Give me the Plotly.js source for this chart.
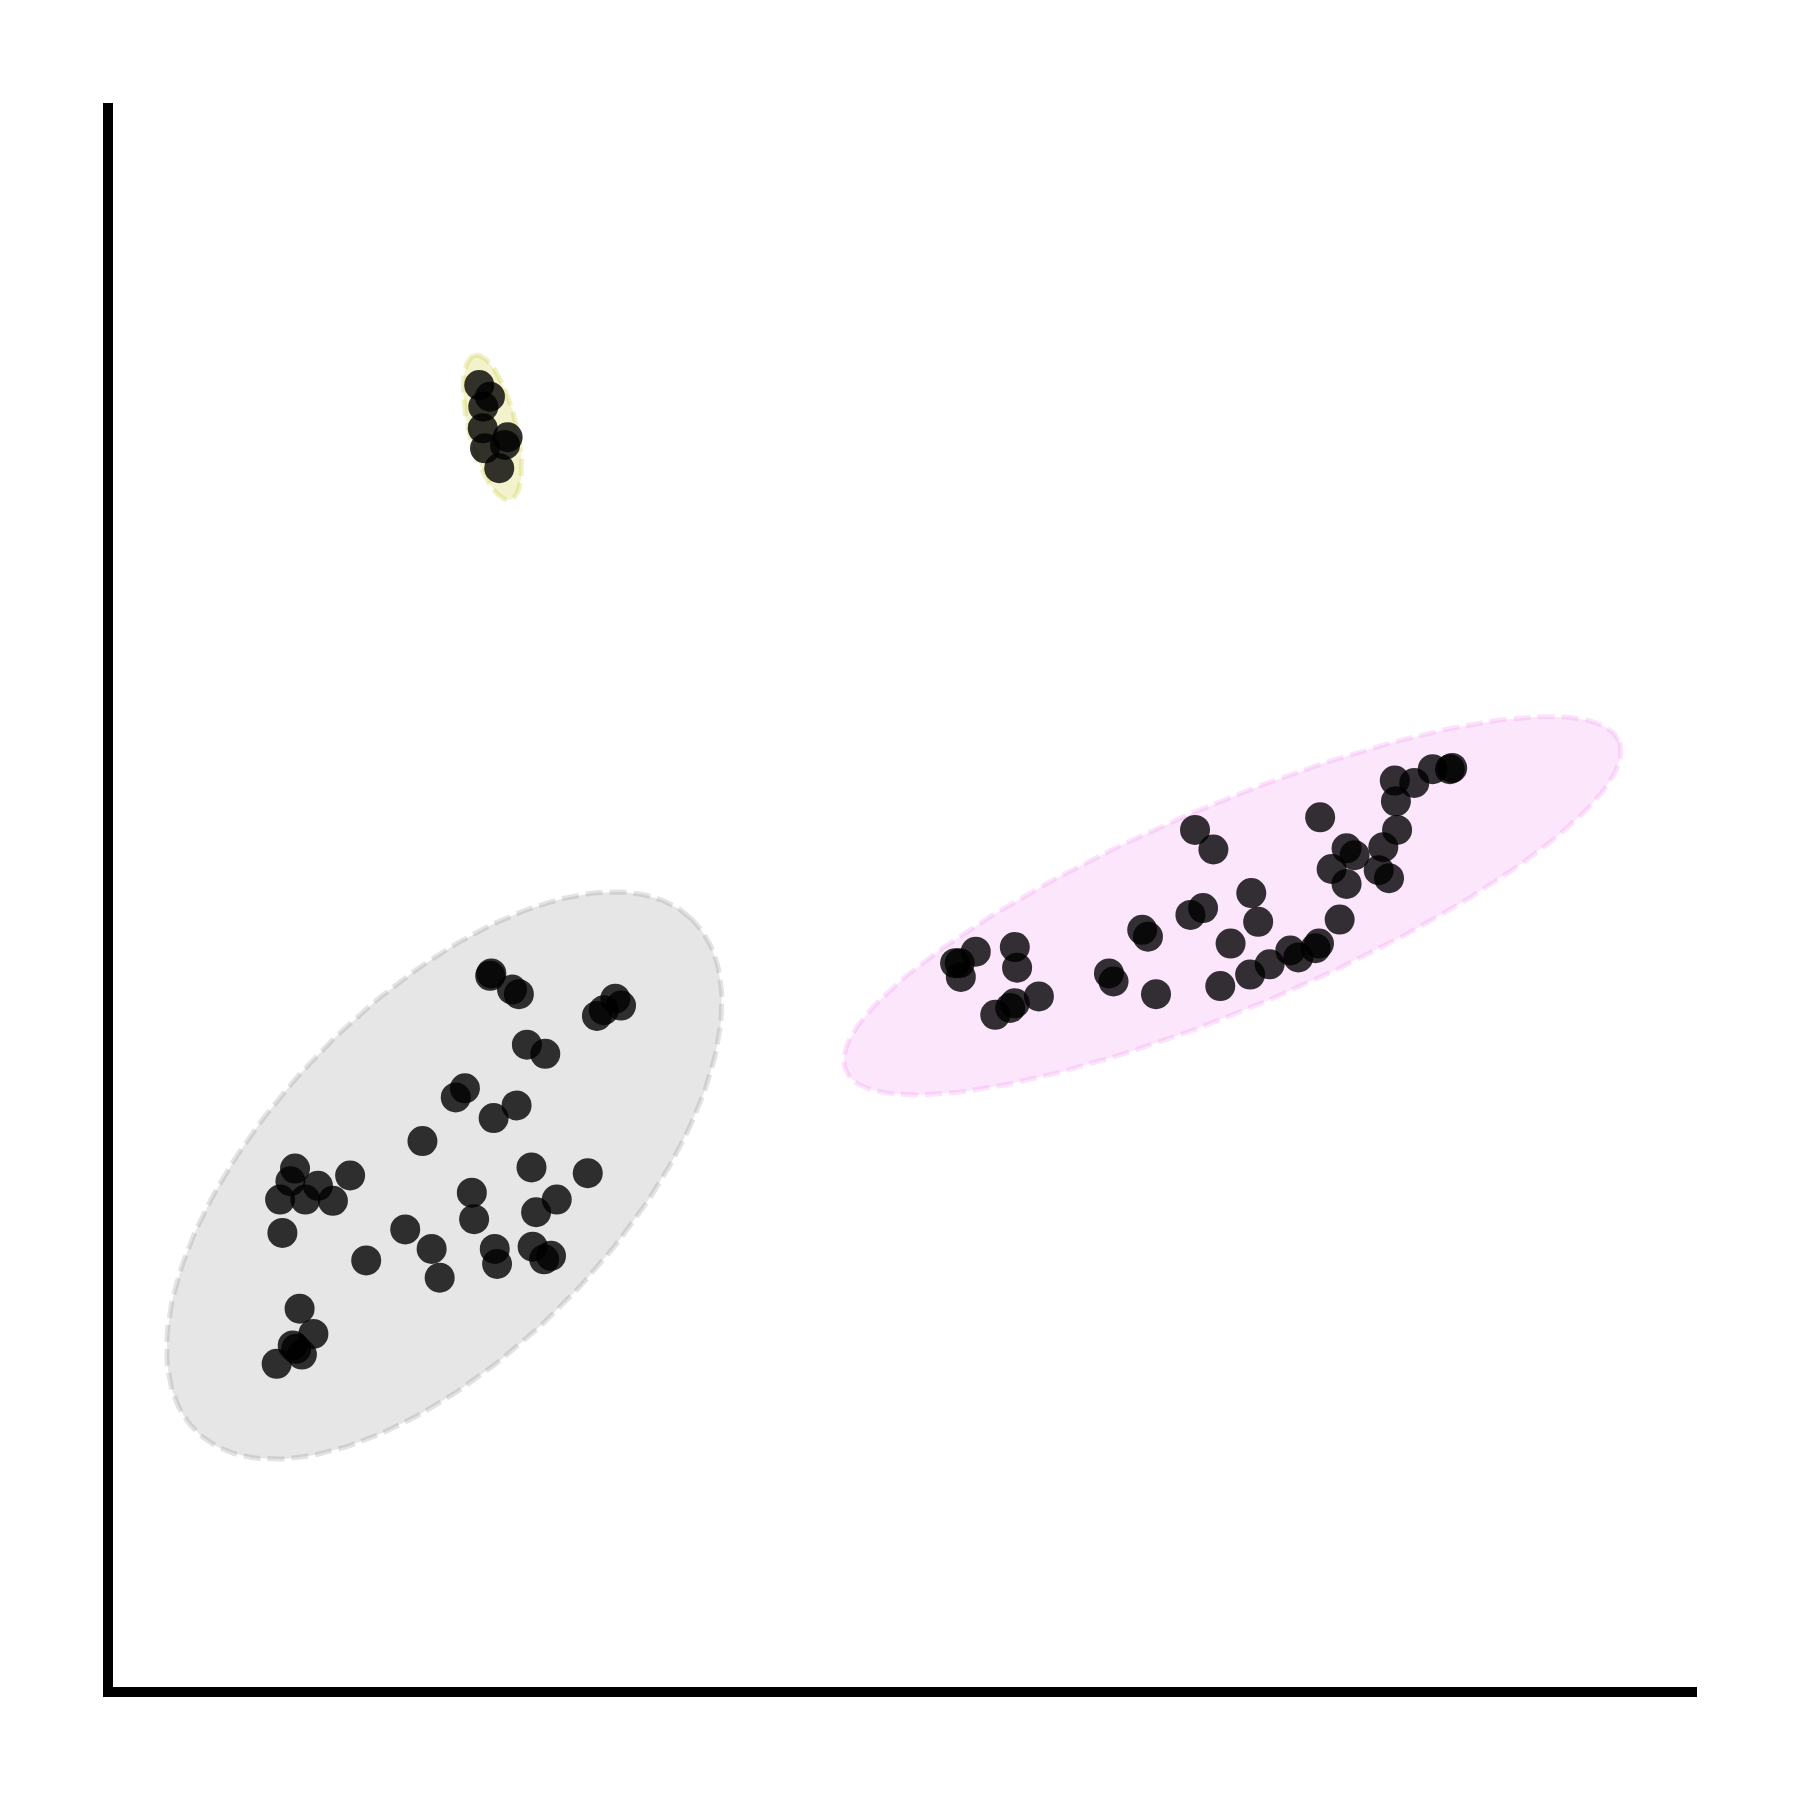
<!DOCTYPE html>
<html>
<head>
<meta charset="utf-8">
<script src="https://cdn.plot.ly/plotly-3.0.1.min.js"></script>
<style>html,body{margin:0;padding:0;background:#fff;}#chart{width:1800px;height:1800px;}</style>
</head>
<body>
<div id="chart"></div>
<script>
// Cluster A (yellow ellipse)
const clusterA_x = [417.5, 426.8, 421.0, 420.5, 442.2, 439.9, 422.5, 434.9];
const clusterA_y = [1232.6, 1222.4, 1213.7, 1194.9, 1187.1, 1180.4, 1177.5, 1160.1];

// Cluster B (gray ellipse)
const clusterB_x = [428, 427, 446, 452, 536, 541, 520, 526, 459, 475, 405, 397, 450, 430, 368,
  257, 253, 277, 305, 244, 266, 290, 246, 463, 512, 411, 485, 467, 413, 353, 319, 376, 383,
  431, 433, 464, 474, 480, 261, 273, 255, 258, 263, 241];
const clusterB_y = [720, 718, 706, 702, 698, 692, 683, 688, 658, 650, 620, 612, 605, 594, 574,
  550, 539, 535, 544, 523, 523, 522, 494, 551, 546, 529, 523, 512, 506, 497, 470, 480, 455,
  480, 467, 482, 471, 474, 428, 406, 396, 393, 388, 380];

// Cluster C (pink ellipse)
const clusterC_x = [1265, 1263, 1248, 1232, 1215, 1216, 1217, 1205, 1150, 1173, 1180, 1160, 1201,
  1210, 1173, 1167, 1149, 1146, 1131, 1124, 1106, 1089, 1063, 1096, 1090, 1072, 1041, 1057, 1048,
  1037, 995, 1000, 1007, 966, 970, 884, 886, 850, 836, 832, 837, 905, 884, 880, 867];
const clusterC_y = [899, 898, 898, 886, 888, 870, 845, 830, 856, 829, 823, 811, 810,
  803, 798, 767, 746, 742, 734, 740, 728, 719, 709, 765, 790, 746, 845, 828, 777,
  771, 758, 752, 702, 720, 713, 743, 725, 739, 729, 729, 717, 700, 694, 690, 684];

// Ellipse parameters (centre, semi-axes, angle in degrees)
const ellipseCx    = [429.0, 387.0, 1073.5];
const ellipseCy    = [1195.6, 544.0, 779.0];
const ellipseA     = [64.8, 310.4, 366.0];
const ellipseB     = [20.8, 152.3, 88.0];
const ellipseAngle = [103.8, 46.0, 23.1];
const ellipseRGB   = ['191,191,0', '128,128,128', '238,130,238'];

function ellipsePath(cx, cy, a, b, deg) {
  const th = deg * Math.PI / 180, xs = [], ys = [];
  const n = 240;
  for (let i = 0; i <= n; i++) {
    const t = 2 * Math.PI * i / n;
    const ex = a * Math.cos(t), ey = b * Math.sin(t);
    xs.push(cx + ex * Math.cos(th) - ey * Math.sin(th));
    ys.push(cy + ex * Math.sin(th) + ey * Math.cos(th));
  }
  return {xs, ys};
}

const traces = [];
for (let k = 0; k < ellipseCx.length; k++) {
  const p = ellipsePath(ellipseCx[k], ellipseCy[k], ellipseA[k], ellipseB[k], ellipseAngle[k]);
  traces.push({
    type: 'scatter', mode: 'lines', x: p.xs, y: p.ys,
    fill: 'toself', fillcolor: 'rgba(' + ellipseRGB[k] + ',0.2)',
    line: {color: 'rgba(' + ellipseRGB[k] + ',0.22)', width: 5, dash: '17px,7px'},
    hoverinfo: 'skip', showlegend: false
  });
}
const px = [clusterA_x, clusterB_x, clusterC_x];
const py = [clusterA_y, clusterB_y, clusterC_y];
for (let k = 0; k < 3; k++) {
  traces.push({
    type: 'scatter', mode: 'markers', x: px[k], y: py[k],
    marker: {size: 30, color: 'black', opacity: 0.8, line: {width: 0}},
    showlegend: false
  });
}

const e = 5 / 1584;
const layout = {
  width: 1800, height: 1800,
  margin: {l: 108, r: 108, t: 108, b: 108, pad: 0},
  paper_bgcolor: '#ffffff', plot_bgcolor: '#ffffff',
  showlegend: false,
  xaxis: {range: [94.08, 1473.92], showgrid: false, zeroline: false, showticklabels: false,
          ticks: '', showline: false, fixedrange: true},
  yaxis: {range: [94.08, 1473.92], showgrid: false, zeroline: false, showticklabels: false,
          ticks: '', showline: false, fixedrange: true},
  shapes: [
    {type: 'line', xref: 'paper', yref: 'paper', x0: 0, x1: 0, y0: -e, y1: 1 + e,
     line: {color: 'black', width: 10}},
    {type: 'line', xref: 'paper', yref: 'paper', x0: -e, x1: 1 + e, y0: 0, y1: 0,
     line: {color: 'black', width: 10}}
  ]
};
Plotly.newPlot('chart', traces, layout, {displayModeBar: false, staticPlot: true});
</script>
</body>
</html>
